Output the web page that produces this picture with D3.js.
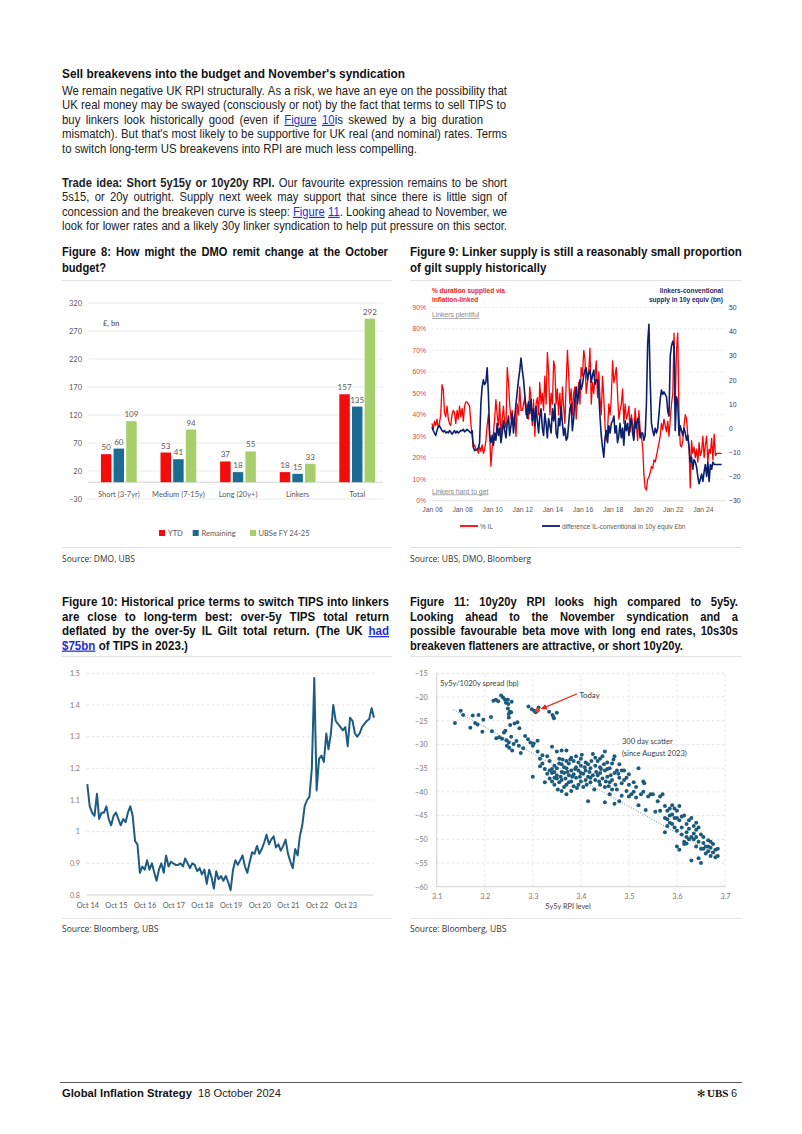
<!DOCTYPE html>
<html><head><meta charset="utf-8">
<script src="https://cdn.jsdelivr.net/npm/d3@7"></script>
<style>body{margin:0;background:#fff}svg{display:block}</style>
</head><body>
<svg id="page" width="802" height="1134"></svg>
<script>
// ---------------- DATA ----------------
const fig8Categories = ["Short (3-7yr)","Medium (7-15y)","Long (20y+)","Linkers","Total"];
const fig8Series = ["YTD","Remaining","UBSe FY 24-25"];
const fig8YTD = [50,53,37,18,157];
const fig8Remaining = [60,41,18,15,135];
const fig8UBSe = [109,94,55,33,292];
const fig8Ticks = [-30,20,70,120,170,220,270,320];

const fig9Start = "2006-01";
const fig9PctIL = [
 36,33,37,35,38,34,36,40,54,52,41,39,
 44,38,36,35,40,42,41,36,42,38,44,39,
 43,37,44,46,46,45,44,36,30,25,26,24,
 24,22,25,23,26,22,24,28,35,40,30,16,
 25,32,38,47,40,35,46,30,38,44,36,34,
 62,55,45,38,42,35,40,30,45,40,53,42,
 42,45,48,40,45,38,53,47,35,47,30,45,
 48,40,55,45,50,42,58,45,69,60,40,50,
 45,65,62,45,52,40,50,38,53,44,36,55,
 70,58,45,52,40,50,53,38,48,55,45,62,
 58,70,66,50,55,60,71,45,55,50,58,65,
 48,60,48,40,58,48,35,28,33,45,40,48,
 65,55,58,62,50,38,42,45,52,36,45,38,
 40,44,32,40,36,30,43,35,28,42,33,30,
 25,12,6,5,10,11,13,16,15,19,18,21,
 24,27,30,36,33,38,35,32,37,30,38,45,
 50,78,45,70,78,40,26,25,28,35,40,38,
 30,24,6,28,22,25,20,24,18,27,21,23,
 30,20,26,30,18,24,22,29,19,31,21,22,
 22,22,22,22];
const fig9Diff = [
 0.5,-1,-2,-3,-1,0.5,1,0,-1,-1.5,-1,-2,
 -1.5,-2,-1,-1.5,-2.5,-1.8,-1,-2,-1.2,-2,-1.5,-1,
 -1,-0.5,-1.5,-1,-0.5,-1,-1.5,-2,-1,-8,-9.3,-9,
 -9,-8,-6,10,17,20,18,19,25,14,-3,-6,
 -3,-7,-2,-5,2,-3,0,-6,-2,3,-1,-4,
 2,5,-3,1,6,-2,4,10,15,20,24,29,
 24,20,14,8,4,11,6,12,3,8,1,9,
 3,-2,5,8,0,-3,6,2,-4,4,1,-2,
 8,3,10,-2,-4,4,1,9,2,-3,0,-5,
 -4,2,8,10,-1,4,12,17,10,14,20,16,
 18,22,24,25,20,23,24,19,22,24,18,20,
 20,14,5,-3,-8,-12,-4,-1,-6,1,-2,2,
 3,5,-2,1,-6,-3,2,-4,0,-7,3,-1,
 2,-3,1,4,-2,-5,3,0,4,2,-4,-2,
 -2,-5,-3,10,35,43,20,2,-1,-3,0,-2,
 0,6,12,15.8,14,15,14,13,7,5,30,34,
 36,34,-1,13,11,-3,1,-1,-3,0,-2,-5,
 -3,-8,-14,-12,-17,-13,-14,-16,-20,-23,-21,-19,
 -22,-18,-15,-20,-14,-22,-15,-17,-14,-15,-15,-15,
 -15,-15,-15,-15];
const fig9LeftTicks = [0,0.1,0.2,0.3,0.4,0.5,0.6,0.7,0.8,0.9];
const fig9RightTicks = [-30,-20,-10,0,10,20,30,40,50];
const fig9XTickYears = [2006,2008,2010,2012,2014,2016,2018,2020,2022,2024];

const fig10Start = "2014-10";
const fig10Ratio = [
 1.15,1.08,1.06,1.05,1.12,1.04,1.06,1.06,1.08,1.04,1.02,1.05,
 1.06,1.04,1.02,1.04,1.03,1.06,1.08,1.05,0.97,0.96,0.87,0.89,
 0.88,0.91,0.88,0.90,0.87,0.845,0.88,0.90,0.87,0.925,0.89,0.905,
 0.90,0.895,0.895,0.90,0.89,0.915,0.90,0.885,0.90,0.895,0.875,0.885,
 0.865,0.88,0.835,0.88,0.855,0.82,0.875,0.85,0.86,0.845,0.86,0.84,
 0.815,0.88,0.91,0.895,0.91,0.925,0.89,0.87,0.905,0.935,0.93,0.955,
 0.93,0.945,0.965,0.99,0.96,0.975,0.985,0.95,0.96,0.94,0.955,0.975,
 0.93,0.905,0.885,0.945,0.925,0.985,1.02,1.08,1.10,1.11,1.20,1.485,
 1.13,1.23,1.24,1.22,1.31,1.26,1.31,1.40,1.35,1.34,1.33,1.32,
 1.33,1.27,1.36,1.35,1.31,1.30,1.31,1.33,1.34,1.35,1.355,1.39,1.36];
const fig10Ticks = [0.8,0.9,1.0,1.1,1.2,1.3,1.4,1.5];
const fig10TickLabels = ["0.8","0.9","1","1.1","1.2","1.3","1.4","1.5"];
const fig10XTickYears = [2014,2015,2016,2017,2018,2019,2020,2021,2022,2023];

const fig11Points = [
 [3.218,-20.8],[3.223,-20.6],[3.228,-20.9],[3.234,-19.7],[3.238,-20.1],[3.242,-20.5],[3.248,-20.6],[3.244,-21.2],[3.249,-21.5],[3.248,-22.4],[3.252,-23.1],[3.250,-23.6],[3.255,-23.2],[3.256,-21.0],[3.250,-24.3],[3.253,-25.9],
 [3.291,-22.0],[3.298,-22.6],[3.303,-22.9],[3.308,-23.0],[3.312,-22.2],[3.306,-23.2],[3.334,-23.1],[3.341,-23.8],[3.344,-24.5],[3.350,-23.3],[3.343,-24.2],
 [3.138,-25.5],[3.150,-22.9],[3.155,-23.8],[3.170,-26.5],[3.175,-23.9],[3.180,-25.5],[3.185,-25.8],[3.187,-23.8],[3.195,-27.3],[3.197,-24.8],[3.213,-24.2],[3.215,-27.2],[3.224,-28.7],[3.230,-28.5],[3.236,-28.8],[3.240,-27.5],[3.243,-27.1],[3.245,-29.1],[3.246,-30.3],[3.250,-29.6],[3.251,-30.7],[3.255,-28.4],[3.257,-31.3],[3.260,-29.9],[3.262,-25.6],[3.268,-25.3],[3.272,-26.6],[3.266,-29.3],[3.271,-30.3],[3.275,-31.8],[3.280,-30.8],[3.284,-28.2],[3.290,-28.9],[3.295,-29.6],[3.300,-30.3],[3.302,-29.8],[3.310,-29.2],
 [3.310,-31.5],[3.315,-33.0],[3.320,-32.3],[3.320,-34.0],[3.325,-38.0],[3.300,-36.8],[3.330,-32.5],[3.335,-33.5],[3.340,-30.5],[3.340,-35.2],[3.340,-36.0],[3.345,-34.5],[3.345,-37.0],[3.350,-31.5],[3.350,-35.0],[3.350,-36.5],[3.355,-38.0],[3.355,-33.0],[3.360,-31.3],[3.360,-34.2],[3.360,-35.8],[3.360,-37.5],[3.365,-36.0],[3.365,-39.0],[3.370,-33.5],[3.370,-31.3],[3.370,-35.0],[3.370,-38.5],[3.370,-40.5],[3.375,-36.5],[3.375,-34.0],[3.380,-32.8],[3.380,-35.5],[3.380,-37.8],[3.380,-39.8],[3.385,-33.5],[3.385,-36.3],[3.390,-34.8],[3.390,-37.0],[3.390,-32.5],[3.395,-38.5],[3.395,-35.5],[3.400,-33.0],[3.400,-36.0],[3.400,-37.8],[3.400,-34.5],[3.405,-39.0],[3.410,-35.5],[3.410,-37.5],[3.410,-33.8],[3.415,-36.8],[3.415,-42.0],[3.420,-35.0],[3.420,-38.0],[3.425,-36.5],[3.430,-32.8],[3.430,-34.5],[3.430,-37.5],[3.435,-33.5],[3.440,-36.0],[3.440,-38.5],[3.440,-34.8],[3.445,-32.5],[3.445,-37.2],[3.450,-31.5],[3.450,-35.5],[3.450,-39.0],[3.450,-42.2],[3.455,-33.8],[3.455,-36.8],[3.460,-35.0],[3.460,-38.0],[3.460,-40.5],[3.465,-34.0],[3.465,-37.5],[3.470,-32.5],[3.470,-36.0],[3.470,-42.5],[3.475,-39.5],[3.475,-35.5],[3.480,-34.2],[3.480,-37.0],[3.480,-42.0],[3.485,-38.2],[3.485,-40.8],[3.490,-35.5],[3.490,-37.5],[3.495,-39.8],
 [3.335,-37.2],[3.345,-38.5],[3.352,-39.5],[3.358,-36.8],[3.362,-33.2],[3.368,-37.2],[3.372,-35.8],[3.378,-33.2],[3.382,-36.8],[3.388,-35.2],[3.392,-39.2],[3.398,-36.8],[3.402,-32.2],[3.408,-34.8],[3.412,-38.5],[3.418,-35.8],[3.422,-33.5],[3.428,-39.5],[3.432,-35.8],[3.438,-37.8],[3.442,-35.2],[3.448,-34.2],[3.452,-37.8],[3.458,-38.8],[3.462,-36.5],[3.468,-33.2],[3.472,-38.5],[3.478,-36.2],[3.395,-33.8],[3.405,-36.2],[3.385,-38.8],[3.375,-38.0],[3.365,-34.8],[3.355,-34.0],[3.345,-35.8],[3.335,-35.5],[3.325,-35.2],[3.315,-34.6],[3.330,-36.2],[3.340,-37.8],[3.350,-37.2],[3.360,-39.8],[3.420,-37.0],[3.435,-36.5],[3.415,-34.2],[3.425,-32.0],[3.440,-33.0],[3.455,-35.2],[3.465,-39.5],[3.485,-35.5],[3.495,-37.0],
 [3.500,-41.0],[3.500,-38.5],[3.500,-36.3],[3.505,-40.5],[3.510,-38.0],[3.510,-40.0],[3.515,-41.2],[3.515,-39.0],[3.520,-35.0],[3.520,-42.8],[3.525,-40.5],[3.530,-37.8],[3.530,-40.0],[3.532,-38.2],[3.535,-43.8],[3.540,-41.0],[3.545,-40.5],[3.550,-40.5],[3.555,-44.2],[3.560,-42.0],[3.565,-41.0],[3.565,-44.0],[3.570,-40.5],[3.575,-48.5],[3.575,-43.0],[3.575,-45.5],[3.580,-44.0],[3.580,-45.8],[3.580,-47.2],[3.585,-43.5],[3.585,-46.5],[3.585,-45.0],[3.590,-44.8],[3.590,-42.8],[3.590,-46.8],[3.595,-45.5],[3.595,-47.5],[3.595,-43.5],[3.600,-44.0],[3.600,-51.5],[3.600,-48.2],[3.600,-45.5],[3.605,-46.0],[3.605,-52.2],[3.605,-43.0],[3.610,-47.5],[3.610,-45.2],[3.610,-49.0],[3.615,-51.0],[3.615,-45.0],[3.615,-50.5],[3.620,-48.5],[3.620,-50.9],[3.620,-46.8],[3.620,-49.5],[3.625,-46.0],[3.625,-47.8],[3.625,-50.0],[3.630,-45.5],[3.630,-49.5],[3.630,-54.5],[3.635,-47.2],[3.635,-50.0],[3.635,-48.8],[3.640,-48.0],[3.640,-51.5],[3.640,-46.5],[3.640,-49.5],[3.645,-50.5],[3.645,-54.0],[3.645,-47.5],[3.650,-49.0],[3.650,-52.0],[3.650,-55.0],[3.655,-50.8],[3.655,-49.5],[3.655,-52.0],[3.660,-51.5],[3.660,-53.0],[3.665,-50.2],[3.665,-52.5],[3.665,-51.5],[3.670,-51.8],[3.670,-53.5],[3.670,-50.5],[3.675,-52.8],[3.675,-51.0],[3.680,-53.8],[3.680,-52.2],[3.685,-53.5],[3.685,-52.0]
];
const fig11Today = [3.31,-22.8];
const fig11TrendX = [3.135,3.683];
const fig11TrendY = [-22.7,-53.3];
const fig11XTicks = [3.1,3.2,3.3,3.4,3.5,3.6,3.7];
const fig11YTicks = [-60,-55,-50,-45,-40,-35,-30,-25,-20,-15];

// ---------------- DRAWING ----------------
const svg = d3.select("#page");
const F_TEXT = "'Liberation Sans',Arial,sans-serif";
const F_BODY = "'Open Sans','Noto Sans',sans-serif";
const F_CHART = "Lato,'Open Sans',sans-serif";
const F_ARIAL = "'Liberation Sans',Arial,sans-serif";
const LINK = "#1f2fd6";

function tokenize(segs){
  const words=[]; let cur=[];
  segs.forEach(([t,st])=>{
    t.split(" ").forEach((p,i)=>{
      if(i>0 && cur.length){words.push(cur);cur=[];}
      if(p) cur.push([p,st]);
    });
  });
  if(cur.length) words.push(cur);
  return words;
}
function addPieces(t, word){
  const first=[];
  word.forEach(([s,st],k)=>{
    const ts=t.append("tspan").text(s);
    if(st.includes("b")) ts.attr("font-weight",700);
    if(st.includes("l")) ts.attr("fill",LINK).attr("text-decoration","underline");
    if(k===0) first.push(ts);
  });
  return first[0];
}
function newText(parent,o){
  return parent.append("text").attr("font-family",o.font).attr("font-size",o.size)
    .attr("fill",o.fill||"#222").attr("font-weight",o.weight||400);
}
function drawBlock(x, lines, o){
  const sp = o.size*(o.space||0.278);
  const tmp = svg.append("g").attr("opacity",0);
  const meas = lines.map(l=>{
    const segs = typeof l.segs==="string" ? [[l.segs,o.style||"n"]] : l.segs;
    const words = tokenize(segs);
    const w = words.map(wd=>{const t=newText(tmp,o); addPieces(t,wd); return t.node().getComputedTextLength();});
    return {words,w,nat:d3.sum(w)+sp*(words.length-1)};
  });
  tmp.remove();
  const sx = o.sx || d3.min(lines,(l,i)=>(l.end-x)/meas[i].nat);
  lines.forEach((l,i)=>{
    const m=meas[i];
    const g=svg.append("g").attr("transform",`translate(${x},${l.y}) scale(${sx},1)`);
    let gap=sp;
    if(l.justify!==false && m.words.length>1){
      gap=Math.max(sp*0.5,((l.end-x)/sx-d3.sum(m.w))/(m.words.length-1));
    }
    const t=newText(g,o);
    let cx=0;
    m.words.forEach((wd,j)=>{ addPieces(t,wd).attr("x",cx); cx+=m.w[j]+gap; });
  });
}
function rule(x1,x2,y,color,w){
  svg.append("line").attr("x1",x1).attr("x2",x2).attr("y1",y).attr("y2",y)
    .attr("stroke",color||"#d9d9d9").attr("stroke-width",w||0.8);
}
function label(x,y,txt,o){
  const t=svg.append("text").attr("x",x).attr("y",y).text(txt)
    .attr("font-family",o.font||F_CHART).attr("font-size",o.size||8)
    .attr("fill",o.fill||"#404040").attr("text-anchor",o.anchor||"start")
    .attr("font-weight",o.weight||400);
  if(o.underline) t.attr("text-decoration","underline");
  return t;
}
function styleAxis(g,o){
  g.select(".domain").remove();
  g.selectAll("text").attr("font-family",o.font||F_CHART).attr("font-size",o.size||7.5).attr("fill",o.fill||"#595959");
}

function draw(){
svg.append("rect").attr("width",802).attr("height",1134).attr("fill","#fff");

// ---- Body text ----
drawBlock(62,[{y:78,end:405,segs:"Sell breakevens into the budget and November's syndication"}],
  {font:F_TEXT,size:12,style:"b",fill:"#111"});
drawBlock(62,[
 {y:95,end:507,segs:"We remain negative UK RPI structurally. As a risk, we have an eye on the possibility that"},
 {y:109.4,end:506,segs:"UK real money may be swayed (consciously or not) by the fact that terms to sell TIPS to"},
 {y:123.8,end:483,segs:[["buy linkers look historically good (even if ","n"],["Figure 10","l"],["is skewed by a big duration","n"]]},
 {y:138.2,end:507,segs:"mismatch). But that's most likely to be supportive for UK real (and nominal) rates. Terms"},
 {y:152.6,end:417,segs:"to switch long-term US breakevens into RPI are much less compelling."}
],{font:F_TEXT,size:12,fill:"#222"});
drawBlock(62,[
 {y:187,end:507,segs:[["Trade idea: Short 5y15y or 10y20y RPI.","b"],[" Our favourite expression remains to be short","n"]]},
 {y:201.4,end:507,segs:"5s15, or 20y outright. Supply next week may support that since there is little sign of"},
 {y:215.8,end:507,segs:[["concession and the breakeven curve is steep: ","n"],["Figure 11","l"],[". Looking ahead to November, we","n"]]},
 {y:230.2,end:507,segs:"look for lower rates and a likely 30y linker syndication to help put pressure on this sector."}
],{font:F_TEXT,size:12,fill:"#222"});

// ---- Figure titles ----
drawBlock(62,[
 {y:256,end:388,segs:"Figure 8: How might the DMO remit change at the October"},
 {y:272,end:106,segs:"budget?",justify:false}
],{font:F_TEXT,size:13.5,style:"b",fill:"#111"});
drawBlock(410,[
 {y:256,end:742,segs:"Figure 9: Linker supply is still a reasonably small proportion"},
 {y:272,end:572,segs:"of gilt supply historically",justify:false}
],{font:F_TEXT,size:13.5,style:"b",fill:"#111"});
rule(62,392,280.5); rule(410,742,280.5);

drawBlock(62,[
 {y:606,end:389,segs:"Figure 10: Historical price terms to switch TIPS into linkers"},
 {y:620.5,end:389,segs:"are close to long-term best: over-5y TIPS total return"},
 {y:635,end:389,segs:[["deflated by the over-5y IL Gilt total return. (The UK ","b"],["had","bl"]]},
 {y:649.5,end:188,segs:[["$75bn","bl"],[" of TIPS in 2023.)","b"]],justify:false}
],{font:F_TEXT,size:12.6,style:"b",fill:"#111"});
drawBlock(410,[
 {y:606,end:738,segs:"Figure 11: 10y20y RPI looks high compared to 5y5y."},
 {y:620.5,end:738,segs:"Looking ahead to the November syndication and a"},
 {y:635,end:738,segs:"possible favourable beta move with long end rates, 10s30s"},
 {y:649.5,end:683,segs:"breakeven flatteners are attractive, or short 10y20y.",justify:false}
],{font:F_TEXT,size:12.6,style:"b",fill:"#111"});
rule(62,392,656.5); rule(410,742,656.5);

// ---- separators & sources ----
rule(62,392,547.5); rule(410,742,547.5);
rule(62,392,918.5); rule(410,742,918.5);
label(62,562,"Source: DMO, UBS",{font:F_BODY,size:8.5,fill:"#333"});
label(410,562,"Source: UBS, DMO, Bloomberg",{font:F_BODY,size:8.5,fill:"#333"});
label(62,932,"Source: Bloomberg, UBS",{font:F_BODY,size:8.5,fill:"#333"});
label(410,932,"Source: Bloomberg, UBS",{font:F_BODY,size:8.5,fill:"#333"});

// ---------- Figure 8 ----------
(function(){
  const g=svg.append("g");
  const y=d3.scaleLinear().domain([-30,320]).range([499,303]);
  const x0=d3.scaleBand().domain(fig8Categories).range([89,387]).paddingInner(0.4).paddingOuter(0.2);
  const x1=d3.scaleBand().domain(fig8Series).range([0,x0.bandwidth()]).paddingInner(0.17);
  const color=d3.scaleOrdinal(fig8Series,["#f20c0c","#1b6b94","#a6cf6b"]);
  const vals={"YTD":fig8YTD,"Remaining":fig8Remaining,"UBSe FY 24-25":fig8UBSe};
  g.selectAll(".gr").data(fig8Ticks).join("line").attr("x1",88).attr("x2",383)
    .attr("y1",d=>y(d)).attr("y2",d=>y(d)).attr("stroke","#e3e3e3").attr("stroke-width",0.7);
  g.append("line").attr("x1",88).attr("x2",383).attr("y1",y(0)).attr("y2",y(0)).attr("stroke","#c8c8c8").attr("stroke-width",0.8);
  const ay=g.append("g").attr("transform","translate(88,0)")
    .call(d3.axisLeft(y).tickValues(fig8Ticks).tickSize(0).tickPadding(6));
  styleAxis(ay,{size:7.5,fill:"#595959"});
  const grp=g.selectAll(".grp").data(fig8Categories).join("g").attr("transform",d=>`translate(${x0(d)},0)`);
  grp.selectAll("rect").data((c,i)=>fig8Series.map(s=>({s,v:vals[s][i]}))).join("rect")
    .attr("x",d=>x1(d.s)).attr("width",x1.bandwidth()).attr("y",d=>y(d.v)).attr("height",d=>y(0)-y(d.v))
    .attr("fill",d=>color(d.s));
  grp.selectAll(".vl").data((c,i)=>fig8Series.map(s=>({s,v:vals[s][i]}))).join("text")
    .attr("x",d=>x1(d.s)+x1.bandwidth()/2).attr("y",d=>y(d.v)-4).attr("text-anchor","middle")
    .attr("font-family",F_CHART).attr("font-size",8).attr("fill","#595959").text(d=>d.v);
  const ax=g.append("g").attr("transform",`translate(0,${y(0)})`)
    .call(d3.axisBottom(x0).tickSize(0).tickPadding(9));
  styleAxis(ax,{size:7.5,fill:"#595959"});
  label(103,326,"£, bn",{size:7.5,fill:"#404040"});
  const leg=[[159,168],[192.7,201.5],[250,258.5]];
  fig8Series.forEach((s,i)=>{
    g.append("rect").attr("x",leg[i][0]).attr("y",530).attr("width",6).attr("height",6).attr("fill",color(s));
    label(leg[i][1],536,s,{size:7.5,fill:"#595959"});
  });
})();

// ---------- Figure 9 ----------
(function(){
  const g=svg.append("g");
  const x=d3.scaleTime().domain([new Date(2006,0,1),new Date(2025,0,1)]).range([432,717.95]);
  const yL=d3.scaleLinear().domain([0,0.9]).range([500.7,307.3]);
  const yR=d3.scaleLinear().domain([-30,50]).range([500.7,307.3]);
  const start=d3.timeParse("%Y-%m")(fig9Start);
  const dates=fig9PctIL.map((_,i)=>d3.timeMonth.offset(start,i));
  g.selectAll(".gr").data(fig9LeftTicks).join("line").attr("x1",431.7).attr("x2",725)
    .attr("y1",d=>yL(d)).attr("y2",d=>yL(d)).attr("stroke",d=>d===0?"#c8c8c8":"#d6d6d6")
    .attr("stroke-width",0.6).attr("stroke-dasharray",d=>d===0?null:"2,2");
  const aL=g.append("g").attr("transform","translate(431,0)")
    .call(d3.axisLeft(yL).tickValues(fig9LeftTicks).tickFormat(d3.format(".0%")).tickSize(0).tickPadding(5));
  styleAxis(aL,{font:F_ARIAL,size:6.8,fill:"#e0463a"});
  const aR=g.append("g").attr("transform","translate(725,0)")
    .call(d3.axisRight(yR).tickValues(fig9RightTicks).tickSize(0).tickPadding(4));
  styleAxis(aR,{font:F_ARIAL,size:6.8,fill:"#2b3560"});
  const aB=g.append("g").attr("transform","translate(0,500.7)")
    .call(d3.axisBottom(x).tickValues(fig9XTickYears.map(yy=>new Date(yy,0,1))).tickFormat(d3.timeFormat("Jan %y")).tickSize(0).tickPadding(6));
  styleAxis(aB,{font:F_ARIAL,size:6.8,fill:"#595959"});
  g.append("path").datum(fig9PctIL).attr("fill","none").attr("stroke","#ff0000").attr("stroke-width",1.3)
    .attr("stroke-linejoin","round")
    .attr("d",d3.line().x((d,i)=>x(dates[i])).y(d=>yL(d/100)));
  g.append("path").datum(fig9Diff).attr("fill","none").attr("stroke","#0b1f6b").attr("stroke-width",1.6)
    .attr("stroke-linejoin","round")
    .attr("d",d3.line().x((d,i)=>x(dates[i])).y(d=>yR(d)));
  label(432,293,"% duration supplied via",{font:F_ARIAL,size:6.5,weight:700,fill:"#e8231b"});
  label(432,301.5,"inflation-linked",{font:F_ARIAL,size:6.5,weight:700,fill:"#e8231b"});
  label(723,293,"linkers-conventional",{font:F_ARIAL,size:6.5,weight:700,fill:"#1d2a66",anchor:"end"});
  label(723,301.5,"supply in 10y equiv (bn)",{font:F_ARIAL,size:6.5,weight:700,fill:"#1d2a66",anchor:"end"});
  label(432,317,"Linkers plentiful",{font:F_ARIAL,size:6.8,fill:"#8a8a8a",underline:true});
  label(432,493.5,"Linkers hard to get",{font:F_ARIAL,size:6.8,fill:"#8a8a8a",underline:true});
  g.append("line").attr("x1",460).attr("x2",478).attr("y1",526).attr("y2",526).attr("stroke","#ff0000").attr("stroke-width",1.8);
  label(480,528.5,"% IL",{font:F_ARIAL,size:6.5,fill:"#595959"});
  g.append("line").attr("x1",542).attr("x2",560).attr("y1",526).attr("y2",526).attr("stroke","#0b1f6b").attr("stroke-width",1.8);
  label(562,528.5,"difference IL-conventional in 10y equiv £bn",{font:F_ARIAL,size:6.5,fill:"#595959"});
})();

// ---------- Figure 10 ----------
(function(){
  const g=svg.append("g");
  const start=d3.timeParse("%Y-%m")(fig10Start);
  const dates=fig10Ratio.map((_,i)=>d3.timeMonth.offset(start,i));
  const x=d3.scaleTime().domain([new Date(2014,9,1),new Date(2024,9,1)]).range([87.3,374]);
  const y=d3.scaleLinear().domain([0.8,1.5]).range([895,673.3]);
  g.selectAll(".gr").data(fig10Ticks.slice(1)).join("line").attr("x1",86.7).attr("x2",373.5)
    .attr("y1",d=>y(d)).attr("y2",d=>y(d)).attr("stroke","#d9d9d9").attr("stroke-width",0.7).attr("stroke-dasharray","2.5,2.5");
  g.append("line").attr("x1",86.7).attr("x2",373.5).attr("y1",y(0.8)).attr("y2",y(0.8)).attr("stroke","#c4c4c4").attr("stroke-width",0.8);
  const aL=g.append("g").attr("transform","translate(86.7,0)")
    .call(d3.axisLeft(y).tickValues(fig10Ticks).tickFormat((d,i)=>fig10TickLabels[i]).tickSize(0).tickPadding(7));
  styleAxis(aL,{size:7,fill:"#7a7a7a"});
  const aB=g.append("g").attr("transform",`translate(0,${y(0.8)})`)
    .call(d3.axisBottom(x).tickValues(fig10XTickYears.map(yy=>new Date(yy,9,1))).tickFormat(d3.timeFormat("Oct %y")).tickSize(0).tickPadding(7.5));
  styleAxis(aB,{size:7.3,fill:"#595959"});
  g.append("path").datum(fig10Ratio).attr("fill","none").attr("stroke","#1d5c82").attr("stroke-width",2)
    .attr("stroke-linejoin","round")
    .attr("d",d3.line().x((d,i)=>x(dates[i])).y(d=>y(d)));
})();

// ---------- Figure 11 ----------
(function(){
  const g=svg.append("g");
  const x=d3.scaleLinear().domain([3.1,3.7]).range([436.7,725]);
  const y=d3.scaleLinear().domain([-60,-15]).range([886.7,673.3]);
  g.selectAll(".gh").data(fig11YTicks.slice(1)).join("line").attr("x1",x(3.1)).attr("x2",x(3.7))
    .attr("y1",d=>y(d)).attr("y2",d=>y(d)).attr("stroke","#d9d9d9").attr("stroke-width",0.7).attr("stroke-dasharray","2.5,2.5");
  g.selectAll(".gv").data(fig11XTicks.slice(1)).join("line").attr("y1",y(-60)).attr("y2",y(-15))
    .attr("x1",d=>x(d)).attr("x2",d=>x(d)).attr("stroke","#d9d9d9").attr("stroke-width",0.7).attr("stroke-dasharray","2.5,2.5");
  g.append("line").attr("x1",x(3.1)).attr("x2",x(3.7)).attr("y1",y(-60)).attr("y2",y(-60)).attr("stroke","#c4c4c4").attr("stroke-width",0.8);
  g.append("line").attr("x1",x(3.1)).attr("x2",x(3.1)).attr("y1",y(-60)).attr("y2",y(-15)).attr("stroke","#c4c4c4").attr("stroke-width",0.8);
  const aL=g.append("g").attr("transform",`translate(${x(3.1)},0)`)
    .call(d3.axisLeft(y).tickValues(fig11YTicks).tickFormat(d3.format("d")).tickSize(0).tickPadding(9));
  styleAxis(aL,{size:7.3,fill:"#7a7a7a"});
  const aB=g.append("g").attr("transform",`translate(0,${y(-60)})`)
    .call(d3.axisBottom(x).tickValues(fig11XTicks).tickFormat(d3.format(".1f")).tickSize(0).tickPadding(7));
  styleAxis(aB,{size:7.3,fill:"#7a7a7a"});
  g.append("line").attr("x1",x(fig11TrendX[0])).attr("y1",y(fig11TrendY[0]))
    .attr("x2",x(fig11TrendX[1])).attr("y2",y(fig11TrendY[1]))
    .attr("stroke","#5e8fa9").attr("stroke-width",1).attr("stroke-dasharray","1,1.6");
  g.selectAll(".pt").data(fig11Points).join("circle").attr("cx",d=>x(d[0])).attr("cy",d=>y(d[1]))
    .attr("r",2).attr("fill","#1c5b7c");
  g.append("circle").attr("cx",x(fig11Today[0])).attr("cy",y(fig11Today[1])).attr("r",2.4).attr("fill","#e8402f");
  const defs=svg.append("defs");
  defs.append("marker").attr("id","arr").attr("viewBox","0 0 10 10").attr("refX",9).attr("refY",5)
    .attr("markerWidth",5).attr("markerHeight",5).attr("orient","auto")
    .append("path").attr("d","M0,0L10,5L0,10z").attr("fill","#e8231b");
  g.append("line").attr("x1",x(3.392)).attr("y1",y(-19.3)).attr("x2",x(3.318)).attr("y2",y(-22.5))
    .attr("stroke","#e8231b").attr("stroke-width",1.2).attr("marker-end","url(#arr)");
  label(x(3.397),y(-19.6)+2.5,"Today",{size:7.8,fill:"#404040"});
  label(622,744,"300 day scatter",{size:7.5,fill:"#404040"});
  label(622,756,"(since August 2023)",{size:7.5,fill:"#404040"});
  label(440,686,"5y5y/1020y spread (bp)",{size:7.5,fill:"#404040"});
  label(568,909,"5y5y RPI level",{size:7.3,fill:"#404040",anchor:"middle"});
})();

// ---- Footer ----
rule(60,742,1082.5,"#444",0.9);
drawBlock(62,[{y:1097,end:192,segs:"Global Inflation Strategy"}],{font:F_TEXT,size:11,style:"b",fill:"#111"});
drawBlock(198,[{y:1097,end:281,segs:"18 October 2024"}],{font:F_TEXT,size:11,fill:"#222"});
label(697,1097,"✻",{font:"'DejaVu Sans',sans-serif",size:10,fill:"#111"});
label(707,1097,"UBS",{font:"'Liberation Serif','DejaVu Serif',serif",size:11,weight:700,fill:"#111"});
label(731,1097,"6",{font:F_TEXT,size:11,fill:"#222"});
}
if(document.fonts && document.fonts.ready){document.fonts.ready.then(draw);}else{draw();}
</script>
</body></html>
